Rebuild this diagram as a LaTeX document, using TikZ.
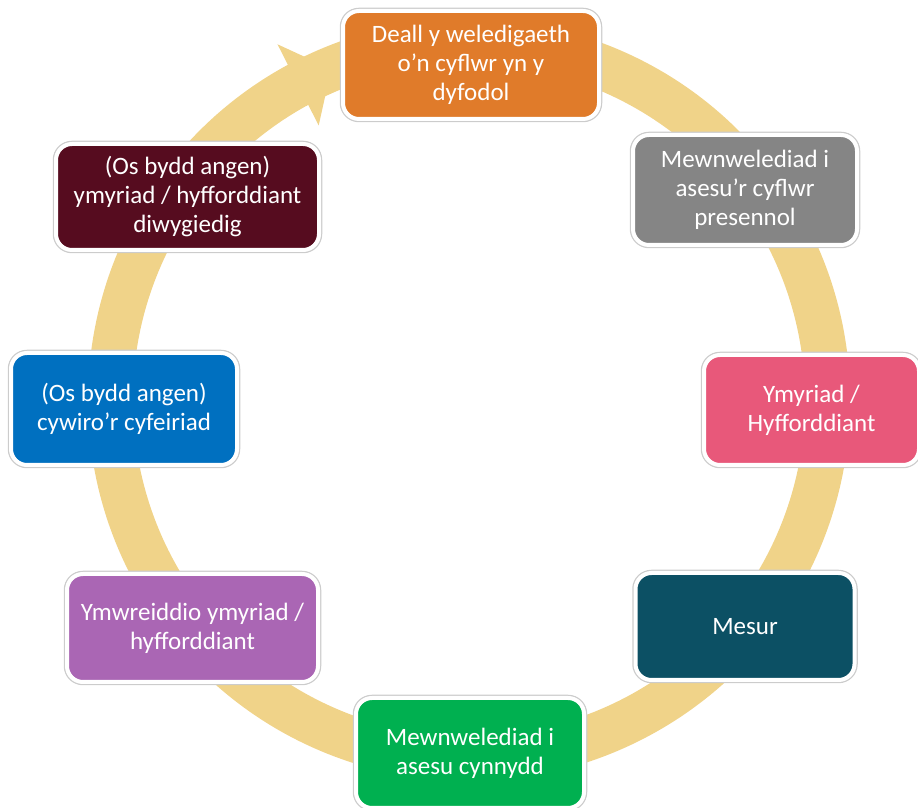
\documentclass[tikz,border=0pt]{standalone}
\usepackage{fontspec}
\setmainfont{Carlito}
\definecolor{ringc}{RGB}{240,211,137}
\definecolor{corange}{RGB}{224,123,42}
\definecolor{cgray}{RGB}{133,133,133}
\definecolor{cpink}{RGB}{232,88,122}
\definecolor{cteal}{RGB}{12,80,100}
\definecolor{cgreen}{RGB}{0,176,80}
\definecolor{cpurple}{RGB}{170,102,180}
\definecolor{cblue}{RGB}{0,112,192}
\definecolor{cmaroon}{RGB}{86,12,31}
\begin{document}
\begin{tikzpicture}[x=1pt,y=1pt,
  box/.style={rounded corners=16pt, draw=white, line width=4pt,
    preaction={draw=black!20, line width=6.5pt},
    inner sep=0pt, align=center, text=white,
    font=\fontsize{25}{29}\selectfont}]
\useasboundingbox (0,0) rectangle (918,808);
% ring with arrow
\begin{scope}[shift={(469,408)}]
  \fill[ringc] (119:381pt) arc[start angle=119, end angle=-260, radius=381pt]
    -- (-260:336pt) arc[start angle=-260, end angle=119, radius=336pt] -- cycle;
  \fill[ringc] (118.3:404pt) -- (112.6:358.5pt) -- (118.7:313pt) -- cycle;
\end{scope}
% boxes
\node[box, fill=corange, minimum width=256pt, minimum height=108pt] (n1) at (471,743)
  {Deall y weledigaeth\\o’n cyflwr yn y\\dyfodol};
\node[box, fill=cgray, minimum width=224pt, minimum height=110pt] (n2) at (745,618)
  {Mewnwelediad i\\asesu’r cyflwr\\presennol};
\node[box, fill=cpink, minimum width=215pt, minimum height=110pt] (n3) at (811.5,398)
  {Ymyriad /\\Hyfforddiant};
\node[box, fill=cteal, minimum width=219pt, minimum height=107pt] (n4) at (745,181.5)
  {Mesur};
\node[box, fill=cgreen, minimum width=228pt, minimum height=110pt] (n5) at (470,55)
  {Mewnwelediad i\\asesu cynnydd};
\node[box, fill=cpurple, minimum width=251pt, minimum height=108pt] (n6) at (192.5,180)
  {Ymwreiddio ymyriad /\\hyfforddiant};
\node[box, fill=cblue, minimum width=226pt, minimum height=112pt] (n7) at (124,399)
  {(Os bydd angen)\\cywiro’r cyfeiriad};
\node[box, fill=cmaroon, minimum width=263pt, minimum height=106pt] (n8) at (187.5,611)
  {(Os bydd angen)\\ymyriad / hyfforddiant\\diwygiedig};
\end{tikzpicture}
\end{document}
